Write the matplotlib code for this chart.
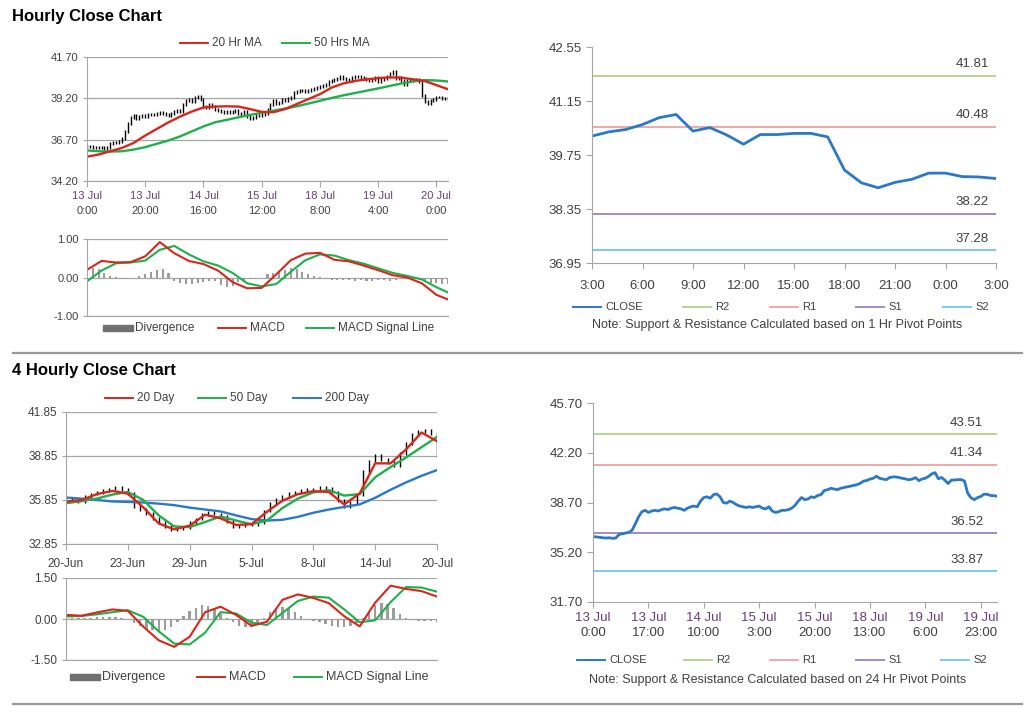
import numpy as np
import matplotlib.pyplot as plt
from matplotlib.lines import Line2D
from matplotlib.patches import Rectangle

plt.rcParams['font.family'] = ['Liberation Sans', 'DejaVu Sans']

W, H = 1024, 706

# ---------------- hourly data (13 Jul 0:00 -> 20 Jul, 125 bars) ----------------
hourly_close = [
    36.30, 36.28, 36.25, 36.22, 36.20, 36.22, 36.18, 36.20, 36.45, 36.50,
    36.55, 36.60, 36.75, 37.20, 37.70, 38.05, 38.15, 38.00, 38.10, 38.15,
    38.10, 38.20, 38.25, 38.20, 38.30, 38.35, 38.30, 38.25, 38.15, 38.30,
    38.40, 38.45, 38.40, 38.80, 39.05, 39.10, 39.00, 39.25, 39.30, 39.10,
    38.70, 38.65, 38.80, 38.70, 38.55, 38.45, 38.40, 38.35, 38.40, 38.35,
    38.40, 38.45, 38.30, 38.25, 38.40, 38.10, 38.00, 38.05, 38.15, 38.15,
    38.20, 38.30, 38.50, 38.80, 39.05, 38.90, 38.95, 39.10, 39.05, 39.20,
    39.25, 39.55, 39.60, 39.70, 39.65, 39.60, 39.70, 39.75, 39.80, 39.85,
    39.90, 39.95, 40.05, 40.20, 40.25, 40.35, 40.40, 40.55, 40.40, 40.35,
    40.30, 40.45, 40.50, 40.50, 40.45, 40.40, 40.35, 40.30, 40.35, 40.45,
    40.24, 40.35, 40.41, 40.54, 40.72, 40.80, 40.37, 40.46, 40.27, 40.03,
    40.28, 40.28, 40.31, 40.31, 40.22, 39.36, 39.03, 38.90, 39.04, 39.12,
    39.28, 39.28, 39.19, 39.18, 39.14,
]
h_ticks = [0, 20, 40, 60, 80, 100, 120]
h_tick_dates = ['13 Jul', '13 Jul', '14 Jul', '15 Jul', '18 Jul', '19 Jul', '20 Jul']
h_tick_times = ['0:00', '20:00', '16:00', '12:00', '8:00', '4:00', '0:00']

h_ma_x = [0, 4, 8, 12, 16, 20, 24, 28, 32, 36, 40, 44, 48, 52, 56, 60,
          64, 68, 72, 76, 80, 84, 88, 92, 96, 100, 104, 108, 112, 116, 120, 124]
ma20_hr = [35.67, 35.80, 36.00, 36.20, 36.50, 36.95, 37.35, 37.75, 38.10, 38.40,
           38.65, 38.70, 38.72, 38.70, 38.55, 38.38, 38.36, 38.55, 38.85, 39.15,
           39.45, 39.85, 40.10, 40.25, 40.35, 40.42, 40.47, 40.45, 40.35, 40.25,
           40.00, 39.75]
ma50_hr = [36.05, 36.00, 35.98, 36.00, 36.10, 36.25, 36.45, 36.65, 36.90, 37.20,
           37.50, 37.75, 37.90, 38.05, 38.20, 38.32, 38.45, 38.58, 38.72, 38.88,
           39.05, 39.22, 39.38, 39.52, 39.66, 39.80, 39.95, 40.10, 40.22, 40.30,
           40.28, 40.22]

h_macd_x = [0, 5, 10, 15, 20, 25, 30, 35, 40, 45, 50, 55, 60, 65, 70, 75,
            80, 85, 90, 95, 100, 105, 110, 115, 120, 124]
macd_hr = [0.20, 0.43, 0.39, 0.40, 0.55, 0.92, 0.63, 0.43, 0.35, 0.18,
           -0.12, -0.28, -0.27, 0.08, 0.45, 0.62, 0.64, 0.46, 0.42, 0.31,
           0.19, 0.06, 0.00, -0.15, -0.45, -0.57]
signal_hr = [-0.10, 0.18, 0.37, 0.39, 0.44, 0.72, 0.82, 0.60, 0.42, 0.31,
             0.12, -0.15, -0.23, -0.17, 0.15, 0.45, 0.60, 0.57, 0.45, 0.36,
             0.24, 0.12, 0.04, -0.05, -0.25, -0.39]
h_div_x = list(range(0, 125, 2))
div_hr = [0.15, 0.25, 0.22, 0.12, 0.05, 0.02, -0.04, -0.05, -0.02, 0.05,
          0.10, 0.15, 0.20, 0.22, 0.12, -0.10, -0.15, -0.18, -0.18, -0.15,
          -0.12, -0.08, -0.10, -0.20, -0.24, -0.22, -0.12, -0.08, -0.05, -0.05,
          -0.02, 0.08, 0.12, 0.18, 0.20, 0.25, 0.22, 0.15, 0.08, 0.04,
          0.02, -0.03, -0.06, -0.07, -0.06, -0.07, -0.08, -0.06, -0.08, -0.08,
          -0.07, -0.07, -0.08, -0.06, -0.05, -0.03, -0.02, -0.05, -0.10, -0.15,
          -0.15, -0.18, -0.17]

# 1 hr pivot levels (last 24 hours panel)
pivot_names = ['R2', 'R1', 'S1', 'S2']
pivot1_values = [41.81, 40.48, 38.22, 37.28]
last24_ticks = ['3:00', '6:00', '9:00', '12:00', '15:00', '18:00', '21:00', '0:00', '3:00']

# 24 hr pivot levels
pivot24_values = [43.51, 41.34, 36.52, 33.87]
br_ticks = [0, 17, 34, 51, 68, 85, 102, 119]
br_tick_dates = ['13 Jul', '13 Jul', '14 Jul', '15 Jul', '15 Jul', '18 Jul', '19 Jul', '19 Jul']
br_tick_times = ['0:00', '17:00', '10:00', '3:00', '20:00', '13:00', '6:00', '23:00']

# ---------------- 4 hourly data (20-Jun -> 20-Jul) ----------------
fh_x = list(range(0, 121, 2))
fh_close = [35.90, 35.80, 35.75, 36.10, 36.25, 36.35, 36.50, 36.60, 36.70, 36.55,
            36.30, 35.40, 35.20, 34.95, 34.60, 34.30, 34.05, 33.85, 33.90, 33.95,
            34.30, 34.55, 34.85, 35.00, 34.90, 34.75, 34.40, 34.00, 34.10, 34.15,
            34.20, 34.30, 35.10, 35.60, 35.90, 36.10, 36.30, 36.35, 36.50, 36.55,
            36.60, 36.70, 36.65, 36.40, 35.80, 35.40, 35.70, 36.20, 37.80, 38.50,
            38.90, 38.60, 38.40, 38.20, 39.00, 39.70, 40.30, 40.50, 40.60, 40.40,
            38.90]
fh_ticks = [0, 20, 40, 60, 80, 100, 120]
fh_tick_labels = ['20-Jun', '23-Jun', '29-Jun', '5-Jul', '8-Jul', '14-Jul', '20-Jul']

fh_ma_x = [0, 5, 10, 15, 20, 25, 30, 35, 40, 45, 50, 55, 60, 65, 70, 75,
           80, 85, 90, 95, 100, 105, 110, 115, 120]
ma20_day = [35.74, 35.85, 36.25, 36.47, 36.28, 35.35, 34.25, 33.85, 34.10, 34.85,
            34.60, 34.15, 34.20, 35.05, 35.80, 36.25, 36.45, 36.40, 35.55, 36.30,
            38.35, 38.35, 39.30, 40.45, 39.86]
ma50_day = [35.63, 35.77, 35.95, 36.22, 36.40, 35.85, 34.80, 34.05, 34.00, 34.35,
            34.73, 34.45, 34.20, 34.45, 35.30, 35.95, 36.37, 36.52, 36.15, 36.25,
            37.40, 38.10, 38.75, 39.45, 40.15]
ma200_day = [36.02, 35.94, 35.85, 35.75, 35.72, 35.68, 35.60, 35.50, 35.33, 35.20,
             35.07, 34.80, 34.55, 34.45, 34.50, 34.70, 34.98, 35.20, 35.38, 35.55,
             36.00, 36.55, 37.05, 37.50, 37.89]
macd_4h = [0.15, 0.12, 0.24, 0.35, 0.30, -0.28, -0.78, -1.02, -0.65, 0.25,
           0.45, 0.15, -0.25, -0.10, 0.70, 0.90, 0.77, 0.58, 0.10, -0.27,
           0.60, 1.22, 1.10, 1.02, 0.82]
signal_4h = [0.09, 0.11, 0.17, 0.25, 0.32, 0.08, -0.45, -0.90, -0.93, -0.50,
             0.25, 0.20, -0.13, -0.22, 0.22, 0.66, 0.82, 0.78, 0.35, -0.12,
             -0.05, 0.62, 1.17, 1.15, 1.00]
div_4h = [0.05, 0.04, 0.03, 0.02, 0.05, 0.06, 0.06, 0.07, 0.06, 0.03,
          -0.05, -0.15, -0.25, -0.35, -0.42, -0.46, -0.42, -0.30, -0.10, 0.10,
          0.28, 0.42, 0.50, 0.48, 0.40, 0.20, 0.05, -0.10, -0.25, -0.30,
          -0.28, -0.18, 0.05, 0.25, 0.38, 0.45, 0.40, 0.25, 0.10, -0.02,
          -0.08, -0.12, -0.18, -0.25, -0.30, -0.30, -0.25, -0.15, 0.05, 0.30,
          0.50, 0.60, 0.55, 0.40, 0.20, 0.05, -0.05, -0.08, -0.07, -0.06,
          -0.10]

RED = '#D9261C'
GREEN = '#1FAF4B'
BLUE = '#2B78C8'
PIVOT_COLORS = ['#B9D48B', '#F0A8A8', '#A08BC8', '#7CCBE8']
GRID = '#A6A6A6'
TXT = '#404040'
DATE_C = '#6A3D7A'


def px_axes(fig, l, r, t, b):
    return fig.add_axes([l / W, 1 - b / H, (r - l) / W, (b - t) / H])


def style_grid_axes(ax, yticks, fs):
    ax.set_ylim(yticks[0], yticks[-1])
    ax.set_yticks(yticks)
    ax.set_yticklabels([f'{v:.2f}' for v in yticks], fontsize=fs, color=TXT)
    ax.yaxis.grid(True, color=GRID, lw=0.9)
    ax.set_axisbelow(True)
    for s in ['top', 'right']:
        ax.spines[s].set_visible(False)
    for s in ['left', 'bottom']:
        ax.spines[s].set_color(GRID)
    ax.tick_params(axis='y', length=3, color=GRID, pad=3)
    ax.tick_params(axis='x', length=4, color=GRID)


def style_plain_axes(ax, yticks, fs):
    ax.set_ylim(yticks[0], yticks[-1])
    ax.set_yticks(yticks)
    ax.set_yticklabels([f'{v:.2f}' for v in yticks], fontsize=fs, color=TXT)
    for s in ['top', 'right']:
        ax.spines[s].set_visible(False)
    for s in ['left', 'bottom']:
        ax.spines[s].set_color(GRID)
    ax.tick_params(length=4, color=GRID)


def two_line_labels(ax, ticks, dates, times, fs):
    ax.set_xticks(ticks)
    ax.set_xticklabels([])
    for x, d, t in zip(ticks, dates, times):
        ax.annotate(d, (x, 0), xycoords=('data', 'axes fraction'), xytext=(0, -7),
                    textcoords='offset points', ha='center', va='top', fontsize=fs, color=DATE_C)
        ax.annotate(t, (x, 0), xycoords=('data', 'axes fraction'), xytext=(0, -18),
                    textcoords='offset points', ha='center', va='top', fontsize=fs, color=TXT)


def price_bars(ax, x, close):
    close = np.asarray(close)
    prev = np.concatenate([[close[0]], close[:-1]])
    ax.vlines(x, np.minimum(prev, close) - 0.09, np.maximum(prev, close) + 0.09,
              color='black', lw=1.0)


def pivot_lines(ax, values, fs, dx):
    for val, col in zip(values, PIVOT_COLORS):
        ax.axhline(val, color=col, lw=1.4)
        ax.annotate(f'{val:.2f}', (1, val), xycoords=('axes fraction', 'data'), xytext=(dx, 4),
                    textcoords='offset points', ha='right', va='bottom', fontsize=fs, color=TXT)


def legend_row(fig, y, items, fs):
    # items: (x_pixel, label, color, kind)
    for x, label, color, kind in items:
        yy = 1 - y / H
        if kind == 'bar':
            fig.add_artist(Rectangle((x / W, yy - 3 / H), 30 / W, 6 / H, color='#707070',
                                     transform=fig.transFigure))
        else:
            fig.add_artist(Line2D([x / W, (x + 28) / W], [yy, yy], color=color, lw=1.4,
                                  transform=fig.transFigure))
        fig.text((x + 32) / W, yy, label, fontsize=fs, color=TXT, va='center', ha='left')


fig = plt.figure(figsize=(10.24, 7.06), dpi=100)

# titles and separators
fig.text(12 / W, 1 - 16 / H, 'Hourly Close Chart', fontsize=12, fontweight='bold', va='center')
fig.text(12 / W, 1 - 370 / H, '4 Hourly Close Chart', fontsize=12, fontweight='bold', va='center')
fig.add_artist(Line2D([13 / W, 1022 / W], [1 - 352.5 / H] * 2, color='#9A9A9A', lw=1.6))
fig.add_artist(Line2D([13 / W, 1022 / W], [1 - 703.5 / H] * 2, color='#9A9A9A', lw=1.6))

# ---------- hourly price ----------
ax = px_axes(fig, 87, 448, 57, 181)
style_grid_axes(ax, [34.20, 36.70, 39.20, 41.70], 8)
price_bars(ax, range(len(hourly_close)), hourly_close)
ax.plot(h_ma_x, ma50_hr, color=GREEN, lw=1.7)
ax.plot(h_ma_x, ma20_hr, color=RED, lw=1.7)
ax.set_xlim(0, 124)
two_line_labels(ax, h_ticks, h_tick_dates, h_tick_times, 8)
legend_row(fig, 43, [(180, '20 Hr MA', RED, 'line'), (282, '50 Hrs MA', GREEN, 'line')], 8.5)

# ---------- hourly MACD ----------
ax = px_axes(fig, 87, 448, 239, 316)
style_grid_axes(ax, [-1.00, 0.00, 1.00], 8)
ax.bar(h_div_x, div_hr, width=0.7, color='#9C9C9C')
ax.plot(h_macd_x, signal_hr, color=GREEN, lw=1.5)
ax.plot(h_macd_x, macd_hr, color=RED, lw=1.5)
ax.set_xlim(0, 124)
ax.set_xticks([])
legend_row(fig, 328, [(103, 'Divergence', None, 'bar'), (218, 'MACD', RED, 'line'),
                      (306, 'MACD Signal Line', GREEN, 'line')], 8.5)

# ---------- last 24 hours with 1 hr pivots ----------
ax = px_axes(fig, 592, 996, 47, 263)
last24 = hourly_close[-25:]
pivot_lines(ax, pivot1_values, 9.5, -5)
ax.plot(range(len(last24)), last24, color=BLUE, lw=2)
style_plain_axes(ax, [36.95, 38.35, 39.75, 41.15, 42.55], 9.5)
ax.set_xlim(0, 24)
ax.set_xticks(range(0, 25, 3))
ax.set_xticklabels(last24_ticks, fontsize=9.5, color=TXT)
ax.tick_params(axis='x', pad=8)
legend_row(fig, 307, [(573, 'CLOSE', BLUE, 'line'), (683, 'R2', PIVOT_COLORS[0], 'line'),
                      (770, 'R1', PIVOT_COLORS[1], 'line'), (856, 'S1', PIVOT_COLORS[2], 'line'),
                      (943, 'S2', PIVOT_COLORS[3], 'line')], 8)
fig.text(777 / W, 1 - 325 / H, 'Note: Support & Resistance Calculated based on 1 Hr Pivot Points',
         fontsize=9, color=TXT, ha='center', va='center')

# ---------- 4 hourly price ----------
ax = px_axes(fig, 66, 437, 412, 544)
style_grid_axes(ax, [32.85, 35.85, 38.85, 41.85], 8.5)
price_bars(ax, fh_x, fh_close)
ax.plot(fh_ma_x, ma200_day, color=BLUE, lw=1.7)
ax.plot(fh_ma_x, ma50_day, color=GREEN, lw=1.7)
ax.plot(fh_ma_x, ma20_day, color=RED, lw=1.7)
ax.set_xlim(0, 120)
ax.set_xticks(fh_ticks)
ax.set_xticklabels(fh_tick_labels, fontsize=8.5, color=TXT)
ax.tick_params(axis='x', pad=6)
legend_row(fig, 398, [(105, '20 Day', RED, 'line'), (198, '50 Day', GREEN, 'line'),
                      (293, '200 Day', BLUE, 'line')], 8.5)

# ---------- 4 hourly MACD ----------
ax = px_axes(fig, 66, 437, 578, 660)
style_grid_axes(ax, [-1.50, 0.00, 1.50], 8.5)
ax.bar(fh_x, div_4h, width=0.8, color='#9C9C9C')
ax.plot(fh_ma_x, signal_4h, color=GREEN, lw=1.5)
ax.plot(fh_ma_x, macd_4h, color=RED, lw=1.5)
ax.set_xlim(0, 120)
ax.set_xticks([])
legend_row(fig, 677, [(70, 'Divergence', None, 'bar'), (197, 'MACD', RED, 'line'),
                      (294, 'MACD Signal Line', GREEN, 'line')], 9)

# ---------- hourly with 24 hr pivots ----------
ax = px_axes(fig, 593, 997, 403, 602)
pivot_lines(ax, pivot24_values, 9.5, -10)
ax.plot(range(len(hourly_close)), hourly_close, color=BLUE, lw=2)
style_plain_axes(ax, [31.70, 35.20, 38.70, 42.20, 45.70], 9.5)
ax.set_xlim(0, 124)
two_line_labels(ax, br_ticks, br_tick_dates, br_tick_times, 9.5)
legend_row(fig, 660, [(577, 'CLOSE', BLUE, 'line'), (684, 'R2', PIVOT_COLORS[0], 'line'),
                      (770, 'R1', PIVOT_COLORS[1], 'line'), (856, 'S1', PIVOT_COLORS[2], 'line'),
                      (941, 'S2', PIVOT_COLORS[3], 'line')], 8)
fig.text(778 / W, 1 - 680 / H, 'Note: Support & Resistance Calculated based on 24 Hr Pivot Points',
         fontsize=9, color=TXT, ha='center', va='center')

fig.savefig('out.png', dpi=100, facecolor='white')
